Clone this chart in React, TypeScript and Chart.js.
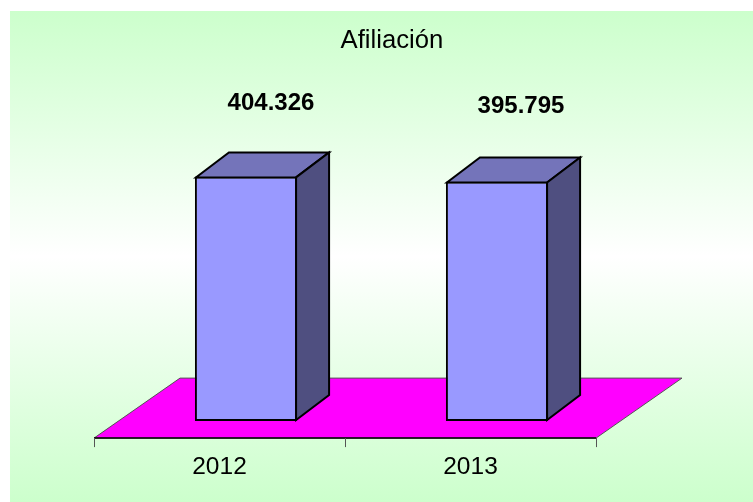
import React, { useEffect, useRef } from "react";
import { Chart, registerables } from "chart.js";

Chart.register(...registerables);

const categories = ["2012", "2013"];
const afiliacion = [404326, 395795];
const dataLabels = ["404.326", "395.795"];
const chartTitle = "Afiliación";

const FONT = "'Liberation Sans', Arial, sans-serif";
const bg = { l: 10, t: 11, r: 753, b: 502 };
const floorDepth = { x: 86, y: 60 };
const barShift = { x: 26.5, y: 17 };
const barDepth = { x: 33, y: 25 };
const titleShift = 47;

const poly = (ctx: CanvasRenderingContext2D, pts: number[][], fill: string, stroke: string, lw: number) => {
  ctx.beginPath();
  pts.forEach((p, i) => (i ? ctx.lineTo(p[0], p[1]) : ctx.moveTo(p[0], p[1])));
  ctx.closePath();
  ctx.fillStyle = fill;
  ctx.fill();
  ctx.strokeStyle = stroke;
  ctx.lineWidth = lw;
  ctx.lineJoin = "miter";
  ctx.stroke();
};

const scene = {
  id: "scene",
  afterLayout(chart: any) {
    if (chart.titleBlock) {
      chart.titleBlock.left += titleShift;
      chart.titleBlock.right += titleShift;
    }
  },
  beforeDraw(chart: any) {
    const { ctx, chartArea: a } = chart;
    ctx.save();
    const g = ctx.createLinearGradient(0, bg.t, 0, bg.b);
    g.addColorStop(0, "#ccffcc");
    g.addColorStop(0.5, "#ffffff");
    g.addColorStop(1, "#ccffcc");
    ctx.fillStyle = g;
    ctx.fillRect(bg.l, bg.t, bg.r - bg.l, bg.b - bg.t);
    poly(
      ctx,
      [
        [a.left, a.bottom],
        [a.right, a.bottom],
        [a.right + floorDepth.x, a.bottom - floorDepth.y],
        [a.left + floorDepth.x, a.bottom - floorDepth.y],
      ],
      "#ff00ff",
      "#555555",
      1
    );
    ctx.strokeStyle = "#000";
    ctx.lineWidth = 1.5;
    ctx.beginPath();
    ctx.moveTo(a.left, a.bottom);
    ctx.lineTo(a.right, a.bottom);
    ctx.stroke();
    ctx.restore();
  },
  beforeDatasetsDraw(chart: any) {
    chart.ctx.save();
    chart.ctx.translate(barShift.x, -barShift.y);
  },
  afterDatasetsDraw(chart: any) {
    const { ctx } = chart;
    chart.getDatasetMeta(0).data.forEach((bar: any) => {
      const L = bar.x - bar.width / 2 + 1;
      const R = bar.x + bar.width / 2 - 1;
      const T = bar.y + 1;
      const B = bar.base - 1;
      const dx = barDepth.x;
      const dy = barDepth.y;
      poly(ctx, [[L, T], [R, T], [R + dx, T - dy], [L + dx, T - dy]], "#7474ba", "#000", 2);
      poly(ctx, [[R, T], [R + dx, T - dy], [R + dx, B - dy], [R, B]], "#4f4f80", "#000", 2);
    });
    ctx.restore();
    ctx.save();
    ctx.font = `bold 24px ${FONT}`;
    ctx.fillStyle = "#000";
    ctx.textAlign = "center";
    ctx.textBaseline = "middle";
    const xs = [271, 521];
    const ys = [103, 106];
    dataLabels.forEach((t, i) => ctx.fillText(t, xs[i], ys[i]));
    ctx.restore();
  },
};

export default function App() {
  const ref = useRef<HTMLCanvasElement>(null);
  useEffect(() => {
    const chart = new Chart(ref.current!, {
      type: "bar",
      data: {
        labels: categories,
        datasets: [
          {
            label: chartTitle,
            data: afiliacion,
            backgroundColor: "#9999ff",
            borderColor: "#000",
            borderWidth: 2,
            borderSkipped: false,
            barPercentage: 0.407,
            categoryPercentage: 1,
          },
        ],
      },
      options: {
        responsive: false,
        animation: false,
        layout: { padding: { left: 94, right: 157, top: 0, bottom: 15.5 } },
        plugins: {
          legend: { display: false },
          tooltip: { enabled: false },
          title: {
            display: true,
            text: chartTitle,
            color: "#000",
            font: { family: FONT, size: 25.7, weight: "normal" },
            padding: { top: 25, bottom: 0 },
          },
        },
        scales: {
          x: {
            grid: {
              display: true,
              drawOnChartArea: false,
              drawTicks: true,
              tickLength: 9,
              color: "#555",
              offset: true,
            },
            border: { display: false },
            ticks: { color: "#000", font: { family: FONT, size: 24.5 }, padding: 5, maxRotation: 0 },
          },
          y: {
            display: false,
            min: 0,
            max: 631600,
          },
        },
      } as any,
      plugins: [scene],
    });
    return () => chart.destroy();
  }, []);
  return (
    <canvas
      ref={ref}
      width={753}
      height={502}
      style={{ position: "absolute", left: 0, top: 0, display: "block" }}
    />
  );
}
